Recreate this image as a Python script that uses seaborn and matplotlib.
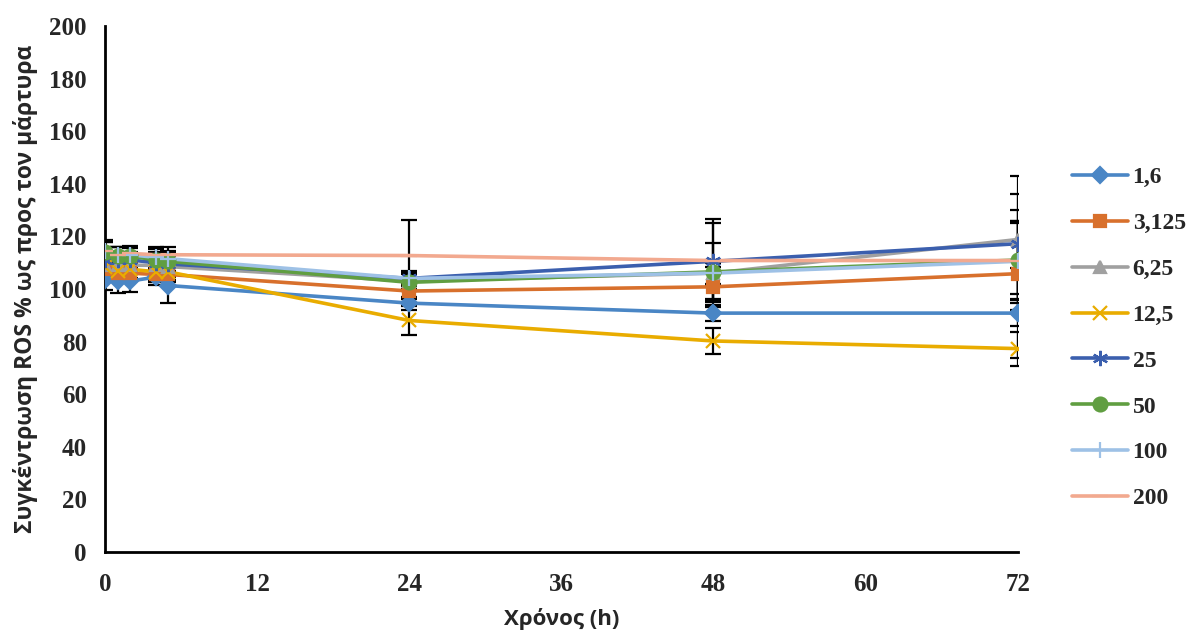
import matplotlib
matplotlib.use("Agg")
import matplotlib.pyplot as plt
from matplotlib.lines import Line2D
import seaborn as sns
import pandas as pd
import numpy as np

# Sampling times (h)
hours = [0, 1, 2, 4, 5, 24, 48, 72]

# Concentrations shown in the legend
concentrations = ["1,6", "3,125", "6,25", "12,5", "25", "50", "100", "200"]

# ROS level (% of control) per concentration
ros_1_6 = [103.5, 103.0, 103.0, 104.5, 101.3, 94.6, 90.8, 90.8]
ros_3_125 = [107.5, 106.0, 106.0, 105.5, 105.5, 99.2, 100.8, 105.8]
ros_6_25 = [109.0, 109.0, 109.0, 109.0, 108.5, 103.0, 106.0, 118.8]
ros_12_5 = [108.5, 107.0, 107.5, 106.5, 106.5, 88.0, 80.2, 77.3]
ros_25 = [111.0, 111.0, 111.0, 110.0, 109.5, 104.0, 110.5, 117.2]
ros_50 = [114.0, 112.5, 112.5, 111.0, 110.5, 102.5, 106.5, 111.0]
ros_100 = [114.5, 113.0, 113.0, 112.0, 111.5, 104.0, 106.0, 110.5]
ros_200 = [114.5, 113.0, 113.5, 113.0, 113.0, 112.7, 110.8, 110.8]

# Standard deviations
sd_1_6 = [4.0, 4.5, 4.0, 3.0, 6.5, 2.5, 3.0, 17.0]
sd_3_125 = [3.5, 3.0, 3.0, 3.0, 3.0, 3.0, 7.5, 20.0]
sd_6_25 = [4.0, 3.5, 3.5, 3.5, 4.0, 3.0, 5.0, 24.0]
sd_12_5 = [3.5, 3.5, 3.5, 3.0, 3.0, 5.5, 5.0, 6.5]
sd_25 = [3.5, 3.0, 3.0, 3.0, 3.5, 2.5, 14.5, 19.0]
sd_50 = [4.0, 3.5, 3.0, 3.0, 3.5, 3.0, 11.0, 19.0]
sd_100 = [4.0, 3.0, 3.0, 3.0, 3.0, 3.0, 4.0, 14.5]
sd_200 = [3.5, 3.0, 3.0, 3.0, 3.0, 13.5, 15.8, 15.0]

means = [ros_1_6, ros_3_125, ros_6_25, ros_12_5, ros_25, ros_50, ros_100, ros_200]
sds = [sd_1_6, sd_3_125, sd_6_25, sd_12_5, sd_25, sd_50, sd_100, sd_200]

colors = ["#4A86C5", "#D8702C", "#A0A0A0", "#E9AC00",
          "#3B5FAE", "#609E41", "#9EC1E6", "#F2A98F"]
markers = ["D", "s", "^", "x", (6, 2, 0), "o", "+", "_"]
msizes = [8, 9, 9, 10, 11, 10, 12, 12]

rows = []
for c, m in zip(concentrations, means):
    for h, v in zip(hours, m):
        rows.append({"Χρόνος (h)": h, "ROS": v, "conc": c})
df = pd.DataFrame(rows)

sns.set_style("white")
plt.rcParams["font.family"] = ["Liberation Serif", "DejaVu Serif"]

fig = plt.figure(figsize=(11.93, 6.35), dpi=100)
ax = fig.add_axes([0.088, 0.131, 0.765, 0.828])

# Error bars first, so the series lines sit on top
for m, s in zip(means, sds):
    ax.errorbar(hours, m, yerr=s, fmt="none", ecolor="black",
                elinewidth=1.6, capsize=6, capthick=1.6, zorder=1.5)

palette = dict(zip(concentrations, colors))
sns.lineplot(data=df, x="Χρόνος (h)", y="ROS", hue="conc",
             hue_order=concentrations, palette=palette, linewidth=2.6,
             legend=False, ax=ax, zorder=2)

for c, col, mk, ms in zip(concentrations, colors, markers, msizes):
    sub = df[df["conc"] == c]
    ax.plot(sub["Χρόνος (h)"], sub["ROS"], linestyle="none", marker=mk,
            markersize=ms, color=col, markeredgecolor=col,
            markeredgewidth=1.6, zorder=3)

ax.set_xlim(0, 72)
ax.set_ylim(0, 200)
ax.set_xticks(range(0, 73, 12))
ax.set_yticks(range(0, 201, 20))

for side in ["top", "right"]:
    ax.spines[side].set_visible(False)
for side in ["left", "bottom"]:
    ax.spines[side].set_linewidth(2.0)
    ax.spines[side].set_color("black")

ax.tick_params(axis="both", which="major", direction="out", length=6,
               width=2.0, color="black", labelsize=18)
ax.tick_params(axis="x", pad=9)
ax.tick_params(axis="y", pad=7)
for lbl in ax.get_xticklabels() + ax.get_yticklabels():
    lbl.set_fontweight("bold")

ax.set_xlabel("Χρόνος (h)", fontsize=16, fontweight="bold",
              family=["Open Sans", "DejaVu Sans"], labelpad=9)
ax.set_ylabel("Συγκέντρωση ROS % ως προς τον μάρτυρα", fontsize=16.5,
              fontweight="bold", family=["Open Sans", "DejaVu Sans"],
              labelpad=8)

handles = [Line2D([0], [0], color=col, linewidth=2.6, marker=mk,
                  markersize=ms, markeredgecolor=col, markeredgewidth=1.6)
           for col, mk, ms in zip(colors, markers, msizes)]
leg = fig.legend(handles, concentrations, loc="upper left",
                 bbox_to_anchor=(0.889, 0.756), frameon=False, borderpad=0,
                 handlelength=2.35, labelspacing=1.03, handletextpad=0.2,
                 prop={"family": ["Liberation Serif"], "weight": "bold",
                       "size": 17})

fig.savefig("out.png", dpi=100, facecolor="white")
